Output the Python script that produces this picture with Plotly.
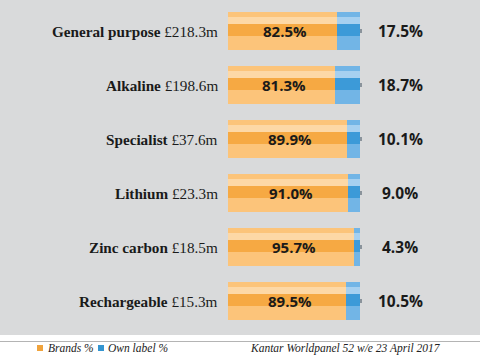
import plotly.graph_objects as go

categories = ["General purpose", "Alkaline", "Specialist", "Lithium", "Zinc carbon", "Rechargeable"]
values_gbp = ["£218.3m", "£198.6m", "£37.6m", "£23.3m", "£18.5m", "£15.3m"]
brands = [82.5, 81.3, 89.9, 91.0, 95.7, 89.5]
own_label = [17.5, 18.7, 10.1, 9.0, 4.3, 10.5]

ORANGE_LIGHT = "#fcc47a"
ORANGE_STRIPE = "#fdd8a6"
ORANGE_DARK = "#f6a943"
BLUE_LIGHT = "#72b5e6"
BLUE_STRIPE = "#a6d0f0"
BLUE_DARK = "#3c9ad8"
GREY_BG = "#d9dadb"

y = list(range(len(categories)))
W = 0.70  # bar thickness in category units

fig = go.Figure()

def band(xvals, base, color, width, offset):
    fig.add_trace(go.Bar(
        y=y, x=xvals, base=base, orientation="h", width=width, offset=offset,
        marker=dict(color=color, line=dict(width=0)), showlegend=False, hoverinfo="skip"))

# orange body
band(brands, [0]*6, ORANGE_LIGHT, W, -W/2)
band(brands, [0]*6, ORANGE_STRIPE, 0.13, -W/2 + 0.09)
band(brands, [0]*6, ORANGE_DARK, 0.22, -W/2 + 0.22)
# blue cap
band(own_label, brands, BLUE_LIGHT, W, -W/2)
band(own_label, brands, BLUE_STRIPE, 0.13, -W/2 + 0.09)
band(own_label, brands, BLUE_DARK, 0.22, -W/2 + 0.22)
# terminal nub
band([1.4]*6, [100.2]*6, "#8a939b", 0.09, -0.045)

# inside labels
for i, b in enumerate(brands):
    fig.add_annotation(x=b/2 + 2, y=i, xref="x", yref="y", text=f"<b>{b:.1f}%</b>",
                       showarrow=False, font=dict(family="Open Sans", size=15, color="#1a1a1a"))
# right labels
for i, o in enumerate(own_label):
    fig.add_annotation(x=130.5, y=i, xref="x", yref="y", text=f"<b>{o:.1f}%</b>",
                       showarrow=False, font=dict(family="Open Sans", size=15.5, color="#1a1a1a"))
# left labels
for i, (c, v) in enumerate(zip(categories, values_gbp)):
    fig.add_annotation(x=0, y=i, xref="paper", yref="y", text=f"<b>{c}</b> {v}",
                       xanchor="right", xshift=-8, showarrow=False,
                       font=dict(family="Liberation Serif", size=15.2, color="#1a1a1a"))

# plot area geometry: left 228px, width 252px -> 0..190.9 units
L, PW = 228, 252
def px(xp):
    return (xp - L) / PW
def py(yp):
    # plot area from y=4 to y=328 (324px)
    return (328 - yp) / 324

shapes = [
    dict(type="rect", xref="paper", yref="paper", x0=px(0), x1=px(480), y0=py(335), y1=py(0),
         fillcolor=GREY_BG, line=dict(width=0), layer="below"),
    dict(type="line", xref="paper", yref="paper", x0=px(0), x1=px(480), y0=py(341.5), y1=py(341.5),
         line=dict(color="#b4b4b4", width=1)),
    dict(type="rect", xref="paper", yref="paper", x0=px(37), x1=px(43), y0=py(351), y1=py(345),
         fillcolor="#f0a33c", line=dict(width=0)),
    dict(type="rect", xref="paper", yref="paper", x0=px(98), x1=px(104), y0=py(351), y1=py(345),
         fillcolor="#3495d0", line=dict(width=0)),
]
anns_foot = [
    dict(x=px(46), y=py(348), text="<i>Brands %</i>", xanchor="left"),
    dict(x=px(106), y=py(348), text="<i>Own label %</i>", xanchor="left"),
    dict(x=px(443), y=py(348), text="<i>Kantar Worldpanel 52 w/e 23 April 2017</i>", xanchor="right"),
]
for a in anns_foot:
    fig.add_annotation(xref="paper", yref="paper", yanchor="middle", showarrow=False,
                       font=dict(family="Liberation Serif", size=11.5, color="#222"), **a)

fig.update_layout(
    width=480, height=360,
    margin=dict(l=L, r=480 - L - PW, t=4, b=32),
    paper_bgcolor="white", plot_bgcolor="rgba(0,0,0,0)",
    barmode="overlay", bargap=0,
    shapes=shapes,
    xaxis=dict(range=[0, PW / 1.32], visible=False, fixedrange=True),
    yaxis=dict(range=[5.5, -0.5], visible=False, fixedrange=True),
    showlegend=False,
)

fig.write_html("out.html", config={"displayModeBar": False},
               post_script="document.body.style.margin='0';")
